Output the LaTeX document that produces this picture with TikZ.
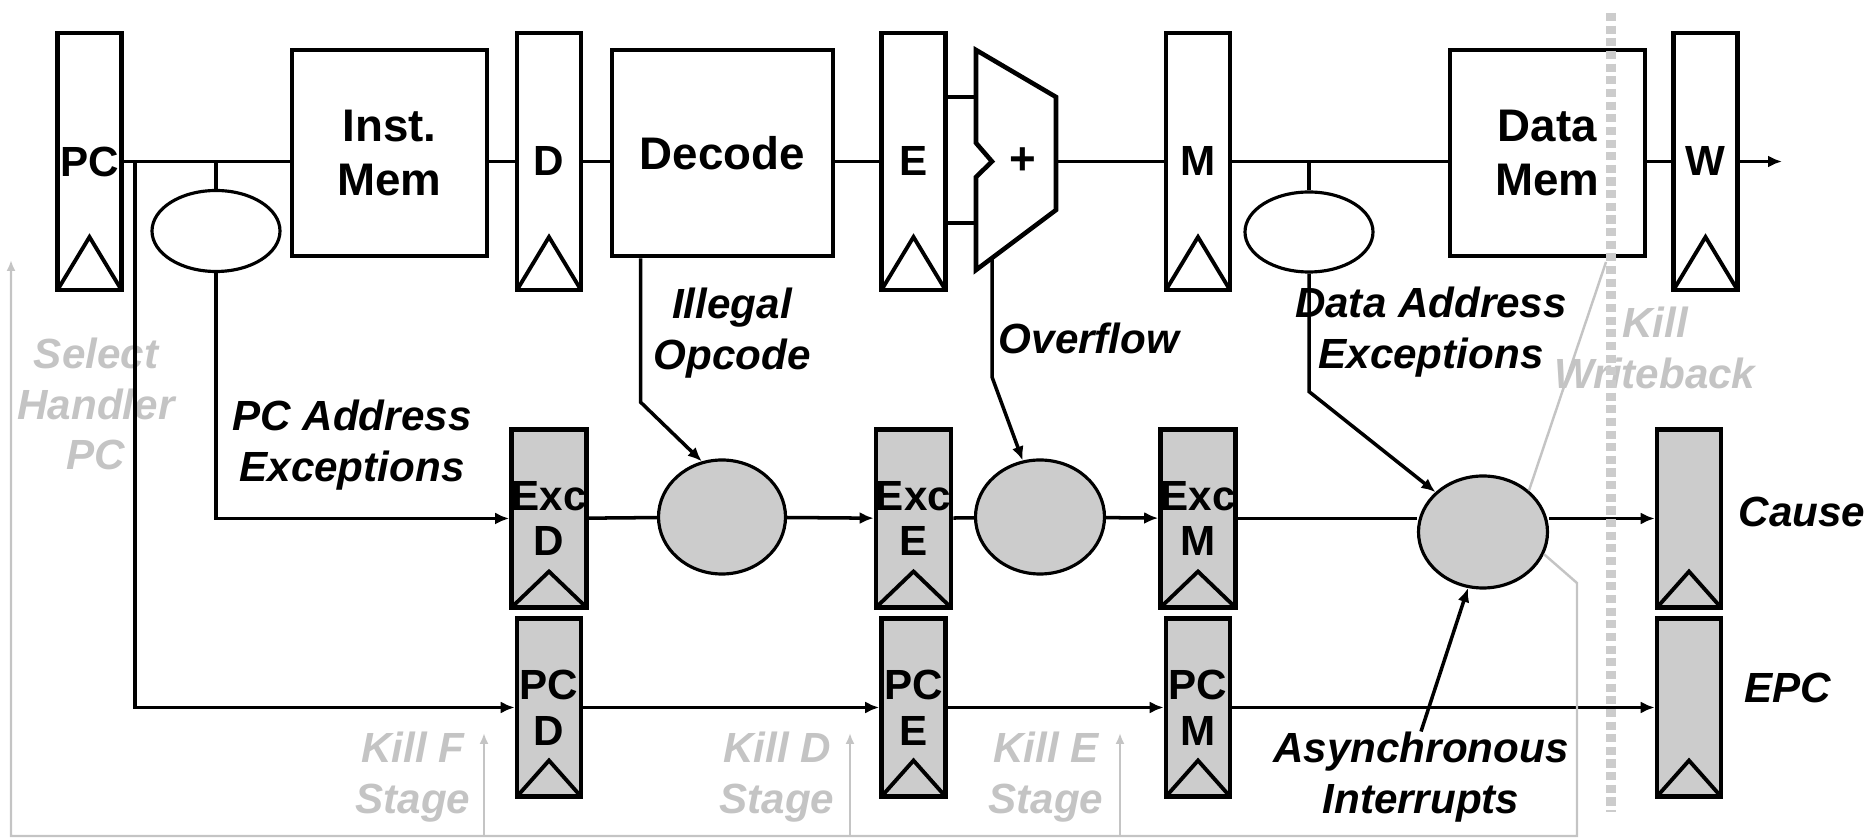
\documentclass[tikz,border=0pt]{standalone}
\usepackage{fontspec}
\setmainfont{Liberation Sans}
\usepackage{xcolor}
\usepackage{tikz}
\usetikzlibrary{arrows.meta,shapes.geometric}

\definecolor{regfill}{HTML}{CCCCCC}
\definecolor{killgray}{HTML}{C4C4C4}

\tikzset{
  clk/.initial=5.3mm,
  reg/.style={draw, line width=1.3pt, fill=white, minimum width=0.64cm, inner sep=0pt, align=center, font=\fontsize{12}{13}\selectfont\bfseries,
    path picture={\draw[line width=1.1pt] (path picture bounding box.south west) -- ([yshift=\pgfkeysvalueof{/tikz/clk}]path picture bounding box.south) -- (path picture bounding box.south east);}},
  topreg/.style={reg, minimum height=2.57cm},
  excreg/.style={reg, fill=regfill, minimum height=1.78cm, clk=3.6mm},
  unit/.style={draw, line width=1.3pt, fill=white, inner sep=0pt, align=center, font=\fontsize{13}{15.5}\selectfont\bfseries},
  chk/.style={draw, ellipse, line width=0.9pt, inner sep=0pt},
  wire/.style={line width=1pt},
  arr/.style={wire, -{Latex[length=1.4mm,width=1.2mm]}},
  lbl/.style={inner sep=0pt, align=center, font=\fontsize{12}{14.3}\selectfont\bfseries\itshape},
  kill/.style={lbl, text=killgray},
  killwire/.style={line width=0.7pt, draw=killgray},
  killarr/.style={killwire, -{Latex[length=1.1mm,width=0.9mm]}},
}

\begin{document}
\begin{tikzpicture}
        \useasboundingbox (0,0) rectangle (18.640,8.400);
        \coordinate (pctap) at (1.350,6.785);
        \coordinate (alua) at (9.760,7.430);
        \coordinate (alub) at (9.760,6.170);
        \coordinate (aluo) at (10.560,6.785);
        \coordinate (aluv) at (9.920,5.820);
        \coordinate (wout) at (17.820,6.785);
        \coordinate (fbk) at (15.770,2.570);
        \coordinate (fbr) at (15.770,0.040);
        \coordinate (fbl) at (0.110,0.040);
        \coordinate (hpc) at (0.110,5.800);
        \coordinate (kF) at (4.840,1.070);
        \coordinate (kD) at (8.500,1.070);
        \coordinate (kE) at (11.200,1.070);
        \coordinate (kwb) at (16.060,5.780);
        \coordinate (kwt) at (16.110,8.270);
        \coordinate (kwd) at (16.110,0.280);

        \node[kill] (selpc) at (0.960,4.360) {Select\\Handler\\PC};
        \node[kill] (killf) at (4.130,0.630) {Kill F\\Stage};
        \node[kill] (killd) at (7.770,0.630) {Kill D\\Stage};
        \node[kill] (kille) at (10.460,0.630) {Kill E\\Stage};
        \node[kill] (killw) at (16.550,4.920) {Kill\\Writeback};

        \node[topreg] (PC) at (0.895,6.785) {PC};
        \node[topreg] (D) at (5.490,6.785) {D};
        \node[topreg] (E) at (9.135,6.785) {E};
        \node[topreg] (M) at (11.980,6.785) {M};
        \node[topreg] (W) at (17.055,6.785) {W};
        \node[unit, minimum width=1.95cm, minimum height=2.06cm] (imem) at (3.895,6.870) {Inst.\\Mem};
        \node[unit, minimum width=2.21cm, minimum height=2.06cm] (decode) at (7.225,6.870) {Decode};
        \node[unit, minimum width=1.95cm, minimum height=2.06cm] (dmem) at (15.475,6.870) {Data\\Mem};
        \draw[line width=1.3pt, fill=white] (9.760,7.900) -- (10.560,7.430) -- (10.560,6.300) -- (9.760,5.700) -- (9.760,6.630) -- (9.920,6.785) -- (9.760,6.970) -- cycle;
        \node[font=\fontsize{13}{15}\selectfont\bfseries] (alu) at (10.230,6.785) {+};
        \node[chk, minimum width=1.28cm, minimum height=0.81cm] (pcchk) at (2.160,6.090) {};
        \node[chk, minimum width=1.28cm, minimum height=0.80cm] (dachk) at (13.090,6.080) {};

        \node[excreg] (excD) at (5.490,3.215) {Exc\\D};
        \node[excreg] (excE) at (9.135,3.215) {Exc\\E};
        \node[excreg] (excM) at (11.980,3.215) {Exc\\M};
        \node[excreg] (cause) at (16.890,3.215) {};
        \node[excreg] (pcD) at (5.490,1.325) {PC\\D};
        \node[excreg] (pcE) at (9.135,1.325) {PC\\E};
        \node[excreg] (pcM) at (11.980,1.325) {PC\\M};
        \node[excreg] (epc) at (16.890,1.325) {};
        \node[chk, fill=regfill, minimum width=1.27cm, minimum height=1.14cm] (exc1) at (7.220,3.230) {};
        \node[chk, fill=regfill, minimum width=1.29cm, minimum height=1.14cm] (exc2) at (10.400,3.230) {};
        \node[chk, fill=regfill, minimum width=1.29cm, minimum height=1.12cm] (exc3) at (14.830,3.080) {};

        \node[lbl] (pcaddr) at (3.520,3.950) {PC Address\\Exceptions};
        \node[lbl] (illop) at (7.320,5.070) {Illegal\\Opcode};
        \node[lbl] (ovf) at (10.890,5.020) {Overflow};
        \node[lbl] (daddr) at (14.310,5.080) {Data Address\\Exceptions};
        \node[lbl] (async) at (14.210,0.630) {Asynchronous\\Interrupts};
        \node[lbl, anchor=west] (causelbl) at (17.380,3.280) {Cause};
        \node[lbl, anchor=west] (epclbl) at (17.440,1.520) {EPC};

        \draw[wire] (PC.east) -- (PC.east -| imem.west);
        \draw[wire] (imem.east |- D.west) -- (D.west);
        \draw[wire] (D.east) -- (D.east -| decode.west);
        \draw[wire] (decode.east |- E.west) -- (E.west);
        \draw[wire] (E.east |- alua) -- (alua);
        \draw[wire] (E.east |- alub) -- (alub);
        \draw[wire] (aluo) -- (M.west);
        \draw[wire] (M.east) -- (M.east -| dmem.west);
        \draw[wire] (dmem.east |- W.west) -- (W.west);
        \draw[arr] (W.east) -- (wout);
        \draw[wire] (pcchk.north) -- (pcchk.north |- PC.east);
        \draw[wire] (dachk.north) -- (dachk.north |- M.east);

        \draw[arr] (pcchk.south) |- (excD.west);
        \draw[arr] (pctap) |- (pcD.west);
        \draw[arr] ([xshift=0.31cm]decode.south west) -- ++(0,-1.44) -- (exc1.110);
        \draw[arr] (aluv) -- ++(0,-1.19) -- (exc2.107);
        \draw[arr] (dachk.south) -- ++(0,-1.18) -- (exc3.140);
        \draw[arr] (async.north) -- (exc3.255);

        \draw[wire] (excD) -- (exc1);
        \draw[arr] (exc1) -- (excE);
        \draw[wire] (excE) -- (exc2);
        \draw[arr] (exc2) -- (excM);
        \draw[wire] (excM.east) -- (excM.east -| exc3.west);
        \draw[arr] (excM.east -| exc3.east) -- (cause.west);
        \draw[arr] (pcD) -- (pcE);
        \draw[arr] (pcE) -- (pcM);
        \draw[arr] (pcM) -- (epc);

        \draw[killarr] (exc3.-20) -- (fbk) -- (fbr) -- (fbl) -- (hpc);
        \draw[killarr] (kF |- fbl) -- (kF);
        \draw[killarr] (kD |- fbl) -- (kD);
        \draw[killarr] (kE |- fbl) -- (kE);
        \draw[killwire] (exc3.42) -- (kwb);
        \draw[line width=2.8pt, draw=regfill, dash pattern=on 2.3pt off 1.3pt] (kwt) -- (kwd);
\end{tikzpicture}
\end{document}
